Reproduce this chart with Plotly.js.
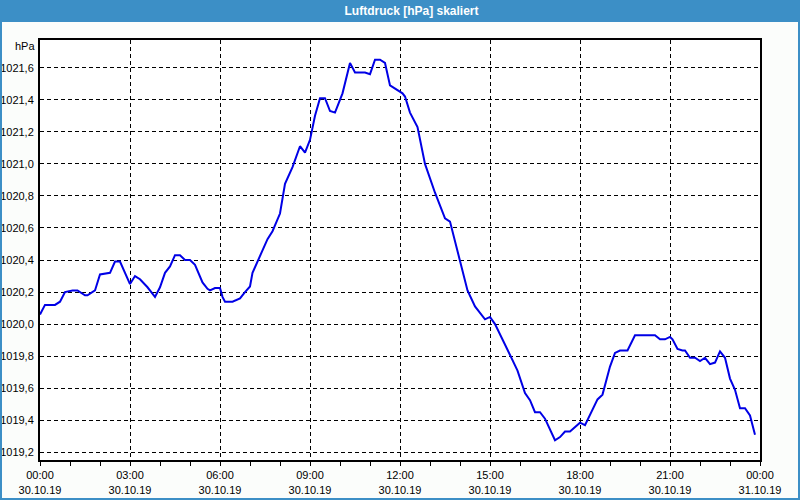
<!DOCTYPE html>
<html>
<head>
<meta charset="utf-8">
<script src="https://cdn.plot.ly/plotly-3.0.1.min.js"></script>
<style>
html,body{margin:0;padding:0;background:#fbfdfb;}
#chart{width:800px;height:500px;}
</style>
</head>
<body>
<div id="chart"></div>
<script>
const chartTitle = "Luftdruck [hPa] skaliert";
const unitLabel = "hPa";
const day = "2019-10-30";
const times = [
"00:00","00:10","00:30","00:40","00:50","01:05","01:15","01:30","01:35","01:50",
"02:00","02:20","02:30","02:40","03:00","03:10","03:20","03:35","03:50","04:00",
"04:10","04:20","04:30","04:40","04:50","05:00","05:10","05:25","05:35","05:40",
"05:50","06:00","06:05","06:10","06:25","06:40","06:50","07:00","07:05","07:15",
"07:35","07:45","08:00","08:10","08:25","08:40","08:50","09:00","09:10","09:20",
"09:30","09:40","09:50","10:05","10:20","10:30","10:50","11:00","11:10","11:20",
"11:30","11:40","11:50","12:05","12:10","12:20","12:35","12:50","13:10","13:30",
"13:40","13:50","14:00","14:15","14:30","14:50","15:00","15:10","15:35","15:55",
"16:10","16:20","16:30","16:40","16:50","17:10","17:20","17:30","17:40","18:00",
"18:10","18:20","18:35","18:45","19:00","19:10","19:20","19:35","19:40","19:50",
"20:30","20:40","20:50","21:00","21:05","21:15","21:25","21:30","21:40","21:50",
"22:00","22:10","22:20","22:30","22:40","22:50","23:00","23:10","23:20","23:30",
"23:40","23:50"
];
const pressure = [
1020.06,1020.12,1020.12,1020.14,1020.20,1020.21,1020.21,1020.18,1020.18,1020.21,
1020.31,1020.32,1020.39,1020.39,1020.25,1020.30,1020.28,1020.23,1020.17,1020.23,
1020.32,1020.36,1020.43,1020.43,1020.40,1020.40,1020.37,1020.26,1020.22,1020.21,
1020.225,1020.225,1020.17,1020.14,1020.14,1020.16,1020.20,1020.235,1020.32,1020.39,
1020.53,1020.58,1020.69,1020.875,1020.98,1021.11,1021.07,1021.15,1021.30,1021.41,
1021.41,1021.33,1021.32,1021.44,1021.63,1021.57,1021.57,1021.56,1021.65,1021.65,
1021.63,1021.49,1021.47,1021.44,1021.42,1021.32,1021.23,1021.00,1020.82,1020.66,
1020.64,1020.52,1020.40,1020.21,1020.11,1020.03,1020.045,1020.00,1019.84,1019.71,
1019.57,1019.525,1019.45,1019.45,1019.41,1019.275,1019.295,1019.33,1019.33,1019.385,
1019.37,1019.43,1019.53,1019.56,1019.735,1019.82,1019.835,1019.835,1019.865,1019.93,
1019.93,1019.905,1019.905,1019.92,1019.905,1019.845,1019.835,1019.835,1019.79,1019.79,
1019.77,1019.79,1019.75,1019.76,1019.83,1019.79,1019.66,1019.59,1019.475,1019.475,
1019.43,1019.31
];
const xStart = "2019-10-30 00:00";
const xEnd = "2019-10-31 00:00";
const yMin = 1019.152, yMax = 1021.773;

const xs = times.map(t => day + " " + t);

const W = 800, H = 500, ml = 40, mr = 40, mt = 40, mb = 40;
const pw = W - ml - mr, ph = H - mt - mb;
const px = v => v / pw, py = v => v / ph;

const trace = {
  x: xs, y: pressure, type: "scatter", mode: "lines",
  line: {color: "#0000e6", width: 2},
  hoverinfo: "skip"
};

const layout = {
  width: W, height: H,
  margin: {l: ml, r: mr, t: mt, b: mb, pad: 0},
  paper_bgcolor: "#fbfdfb",
  plot_bgcolor: "#ffffff",
  separators: ", ",
  showlegend: false,
  font: {family: "Liberation Sans, Arial, sans-serif", size: 11, color: "#000"},
  title: {
    text: "<b>" + chartTitle + "</b>",
    font: {family: "Liberation Sans, Arial, sans-serif", size: 12, color: "#ffffff"},
    xref: "container", yref: "container",
    x: 411.5 / W, y: 1 - 10.5 / H, xanchor: "center", yanchor: "middle"
  },
  xaxis: {
    type: "date",
    range: [xStart, xEnd],
    tick0: xStart,
    dtick: 3 * 3600000,
    tickformat: "%H:%M<br>%d.%m.%y",
    ticks: "outside", ticklen: 4, tickcolor: "#000", tickwidth: 1,
    minor: {dtick: 3600000, ticks: "outside", ticklen: 4, tickcolor: "#000", showgrid: false},
    showgrid: true, gridcolor: "#000", gridwidth: 1, griddash: "4px,3px",
    showline: true, linecolor: "#000", linewidth: 2, mirror: true,
    zeroline: false, fixedrange: true,
    tickfont: {family: "Liberation Sans, Arial, sans-serif", size: 11, color: "#000"}
  },
  yaxis: {
    range: [yMin, yMax],
    tick0: 1019.2, dtick: 0.2,
    tickformat: ".1f",
    ticks: "", ticklabelstandoff: 2,
    showgrid: true, gridcolor: "#000", gridwidth: 1, griddash: "4px,3px",
    showline: true, linecolor: "#000", linewidth: 2, mirror: true,
    zeroline: false, fixedrange: true,
    tickfont: {family: "Liberation Sans, Arial, sans-serif", size: 11, color: "#000"}
  },
  shapes: [
    {type: "rect", xref: "paper", yref: "paper", layer: "below",
     x0: px(-ml), x1: 1 + px(mr), y0: 1 + py(mt - 21), y1: 1 + py(mt),
     fillcolor: "#3c8fc6", line: {width: 0}},
    {type: "rect", xref: "paper", yref: "paper", layer: "above",
     x0: px(-ml + 1), x1: 1 + px(mr - 1), y0: py(-mb + 1), y1: 1 + py(mt - 21),
     fillcolor: "rgba(0,0,0,0)", line: {color: "#3c8fc6", width: 2}}
  ],
  annotations: [
    {text: unitLabel, xref: "paper", yref: "paper", x: 0, y: 1 - py(6),
     xanchor: "right", yanchor: "middle", xshift: -3, showarrow: false,
     font: {family: "Liberation Sans, Arial, sans-serif", size: 11, color: "#000"}}
  ]
};

Plotly.newPlot("chart", [trace], layout, {staticPlot: true, displayModeBar: false});
</script>
</body>
</html>
